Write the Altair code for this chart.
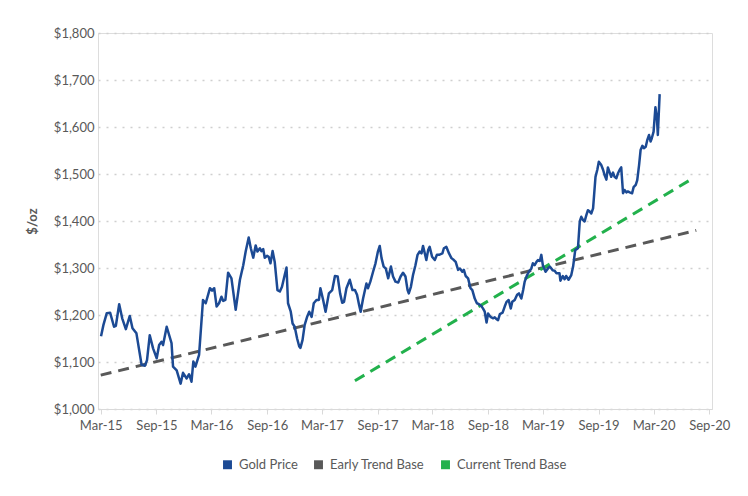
import altair as alt
import pandas as pd

# ---- data ----
gold_dates = [
    "2015-03-02","2015-03-10","2015-03-21","2015-04-01","2015-04-14","2015-04-20","2015-05-01","2015-05-11",
    "2015-05-23","2015-06-05","2015-06-14","2015-06-27","2015-07-14","2015-07-25","2015-08-01","2015-08-10",
    "2015-08-21","2015-09-02","2015-09-10","2015-09-18","2015-09-23","2015-10-05","2015-10-21","2015-10-26",
    "2015-11-07","2015-11-20","2015-11-28","2015-12-10","2015-12-18","2015-12-26","2016-01-01","2016-01-08",
    "2016-01-20","2016-02-02","2016-02-11","2016-02-25","2016-03-03","2016-03-10","2016-03-18","2016-03-26",
    "2016-04-03","2016-04-09","2016-04-16","2016-04-25","2016-05-06","2016-05-20","2016-06-03","2016-06-14",
    "2016-06-22","2016-07-02","2016-07-09","2016-07-17","2016-07-25","2016-07-31","2016-08-08","2016-08-13",
    "2016-08-19","2016-08-24","2016-09-01","2016-09-06","2016-09-12","2016-09-19","2016-09-26","2016-10-05",
    "2016-10-13","2016-10-20","2016-10-29","2016-11-04","2016-11-09","2016-11-18","2016-11-24","2016-12-01",
    "2016-12-09","2016-12-16","2016-12-20","2016-12-27","2017-01-03","2017-01-11","2017-01-18","2017-01-26",
    "2017-02-02","2017-02-11","2017-02-19","2017-02-24","2017-03-05","2017-03-13","2017-03-24","2017-04-04",
    "2017-04-13","2017-04-22","2017-04-30","2017-05-07","2017-05-13","2017-05-21","2017-06-01","2017-06-10",
    "2017-06-18","2017-06-25","2017-07-02","2017-07-07","2017-07-15","2017-07-26","2017-07-31","2017-08-08",
    "2017-08-17","2017-08-25","2017-09-02","2017-09-08","2017-09-14","2017-09-21","2017-09-28","2017-10-06",
    "2017-10-15","2017-10-22","2017-10-30","2017-11-08","2017-11-16","2017-11-24","2017-12-02","2017-12-09",
    "2017-12-13","2017-12-20","2017-12-27","2018-01-04","2018-01-11","2018-01-18","2018-01-24","2018-01-29",
    "2018-02-04","2018-02-09","2018-02-15","2018-02-20","2018-02-28","2018-03-09","2018-03-16","2018-03-23",
    "2018-04-03","2018-04-08","2018-04-16","2018-04-25","2018-05-03","2018-05-11","2018-05-17","2018-05-25",
    "2018-05-31","2018-06-08","2018-06-13","2018-06-19","2018-06-27","2018-07-05","2018-07-11","2018-07-19",
    "2018-07-26","2018-08-02","2018-08-10","2018-08-15","2018-08-21","2018-08-27","2018-09-01","2018-09-09",
    "2018-09-17","2018-09-23","2018-09-29","2018-10-04","2018-10-10","2018-10-19","2018-10-26","2018-11-01",
    "2018-11-08","2018-11-15","2018-11-20","2018-11-28","2018-12-06","2018-12-12","2018-12-20","2018-12-26",
    "2018-12-31","2019-01-08","2019-01-14","2019-01-22","2019-01-27","2019-02-02","2019-02-08","2019-02-13",
    "2019-02-19","2019-02-24","2019-03-01","2019-03-10","2019-03-18","2019-03-24","2019-04-03","2019-04-09",
    "2019-04-15","2019-04-25","2019-04-28","2019-05-06","2019-05-12","2019-05-17","2019-05-25","2019-06-03",
    "2019-06-09","2019-06-16","2019-06-25","2019-07-01","2019-07-06","2019-07-12","2019-07-17","2019-07-23",
    "2019-07-28","2019-08-03","2019-08-08","2019-08-14","2019-08-22","2019-08-28","2019-09-02","2019-09-10",
    "2019-09-16","2019-09-21","2019-09-27","2019-10-02","2019-10-08","2019-10-13","2019-10-19","2019-10-24",
    "2019-10-30","2019-11-04","2019-11-10","2019-11-15","2019-11-21","2019-11-26","2019-12-02","2019-12-07",
    "2019-12-13","2019-12-21","2019-12-26","2020-01-02","2020-01-07","2020-01-13","2020-01-18","2020-01-24",
    "2020-01-29","2020-02-04","2020-02-09","2020-02-15","2020-02-20","2020-02-24","2020-03-01","2020-03-07",
    "2020-03-12","2020-03-15","2020-03-21",
]
gold_values = [
    1155,1179,1204,1205,1175,1177,1223,1193,
    1170,1198,1172,1161,1094,1092,1104,1157,
    1129,1108,1136,1143,1136,1175,1140,1090,
    1082,1054,1077,1065,1074,1058,1101,1090,
    1115,1232,1225,1257,1252,1257,1218,1225,
    1239,1230,1232,1290,1278,1211,1275,1306,
    1335,1365,1342,1322,1348,1335,1342,1336,
    1340,1322,1326,1324,1310,1336,1313,1253,
    1250,1260,1285,1301,1225,1207,1182,1175,
    1150,1133,1130,1147,1179,1196,1207,1196,
    1225,1232,1232,1257,1232,1207,1246,1253,
    1283,1282,1246,1226,1228,1257,1275,1253,
    1253,1243,1221,1207,1235,1267,1257,1271,
    1292,1310,1335,1347,1321,1303,1299,1278,
    1303,1282,1271,1269,1282,1290,1282,1253,
    1246,1260,1285,1306,1328,1335,1331,1347,
    1331,1317,1338,1345,1324,1317,1328,1328,
    1331,1342,1345,1331,1321,1317,1313,1296,
    1299,1292,1296,1283,1278,1257,1253,1235,
    1225,1223,1219,1214,1207,1184,1203,1196,
    1193,1195,1191,1189,1202,1205,1218,1228,
    1232,1214,1228,1232,1243,1246,1235,1253,
    1271,1285,1292,1299,1310,1306,1313,1317,
    1315,1328,1306,1292,1299,1303,1295,1294,
    1289,1289,1273,1283,1276,1283,1275,1285,
    1303,1338,1342,1399,1409,1402,1399,1413,
    1423,1420,1416,1427,1494,1509,1526,1519,
    1509,1498,1488,1514,1503,1494,1503,1494,
    1491,1501,1509,1514,1459,1466,1461,1463,
    1461,1459,1472,1477,1487,1519,1551,1560,
    1555,1558,1572,1583,1569,1576,1590,1642,
    1619,1583,1670,
]

early_dates = ["2015-03-01", "2020-07-20"]
early_values = [1072, 1380]
current_dates = ["2017-06-18", "2020-07-12"]
current_values = [1060, 1492]

series_names = ["Gold Price", "Early Trend Base", "Current Trend Base"]
series_colors = ["#1c4a94", "#595959", "#22b14c"]
y_ticks = [1000, 1100, 1200, 1300, 1400, 1500, 1600, 1700, 1800]
x_tick_months = [(2015, 3), (2015, 9), (2016, 3), (2016, 9), (2017, 3), (2017, 9),
                 (2018, 3), (2018, 9), (2019, 3), (2019, 9), (2020, 3), (2020, 9)]

# ---- build tables ----
gold_df = pd.DataFrame({"date": gold_dates, "value": gold_values, "series": "Gold Price"})
trend_df = pd.concat([
    pd.DataFrame({"date": early_dates, "value": early_values, "series": "Early Trend Base"}),
    pd.DataFrame({"date": current_dates, "value": current_values, "series": "Current Trend Base"}),
])
legend_df = pd.DataFrame({"date": [gold_dates[0]] * 3, "value": [gold_values[0]] * 3, "series": series_names})

FONT = "Lato"
TEXT = "#595959"

x_enc = alt.X(
    "date:T",
    title=None,
    scale=alt.Scale(type="utc",
                    domain=[alt.DateTime(year=2015, month=2, date=20, utc=True),
                            alt.DateTime(year=2020, month=9, date=10, utc=True)]),
    axis=alt.Axis(
        values=[alt.DateTime(year=y, month=m, date=1, utc=True) for y, m in x_tick_months],
        labelExpr="utcFormat(datum.value, '%b-%y')",
        grid=False, domainColor="#d9d9d9", domainWidth=1,
        tickColor="#d9d9d9", tickSize=5, labelPadding=5,
        labelFont=FONT, labelFontSize=13, labelColor=TEXT,
    ),
)
y_enc = alt.Y(
    "value:Q",
    title="$/oz",
    scale=alt.Scale(domain=[1000, 1800], nice=False, zero=False),
    axis=alt.Axis(
        values=y_ticks, format="$,.0f",
        domain=False, ticks=False, labelPadding=4,
        grid=True, gridColor="#cfcfcf", gridDash=[2, 6], gridWidth=1.5,
        labelFont=FONT, labelFontSize=13, labelColor=TEXT,
        titleFont=FONT, titleFontSize=13, titleFontWeight="bold", titleColor=TEXT,
        titlePadding=14,
    ),
)
color_scale = alt.Scale(domain=series_names, range=series_colors)

trend = alt.Chart(trend_df).mark_line(strokeWidth=3, strokeDash=[11, 7]).encode(
    x=x_enc, y=y_enc,
    color=alt.Color("series:N", scale=color_scale, legend=None),
    detail="series:N",
)
gold = alt.Chart(gold_df).mark_line(strokeWidth=2.5, strokeJoin="round").encode(
    x=x_enc, y=y_enc,
    color=alt.Color("series:N", scale=color_scale, legend=None),
)
legend_layer = alt.Chart(legend_df).mark_square(size=80, opacity=0, filled=True).encode(
    x=x_enc, y=y_enc,
    fill=alt.Fill(
        "series:N", scale=color_scale, sort=series_names,
        legend=alt.Legend(
            title=None, orient="none", direction="horizontal",
            legendX=123, legendY=425,
            symbolType="square", symbolSize=80, symbolOpacity=1,
            symbolStrokeWidth=0,
            labelFont=FONT, labelFontSize=13, labelColor=TEXT,
            columnPadding=14, labelOffset=5,
        ),
    ),
)

chart = alt.layer(trend, gold, legend_layer).resolve_scale(fill="independent").properties(
    width=614, height=376,
    autosize=alt.AutoSizeParams(type="none"),
    padding={"left": 90, "top": 25, "right": 20, "bottom": 80},
).configure_view(stroke=None).configure(background="white")

chart.save("out.html", embed_options={"renderer": "svg", "actions": False})
